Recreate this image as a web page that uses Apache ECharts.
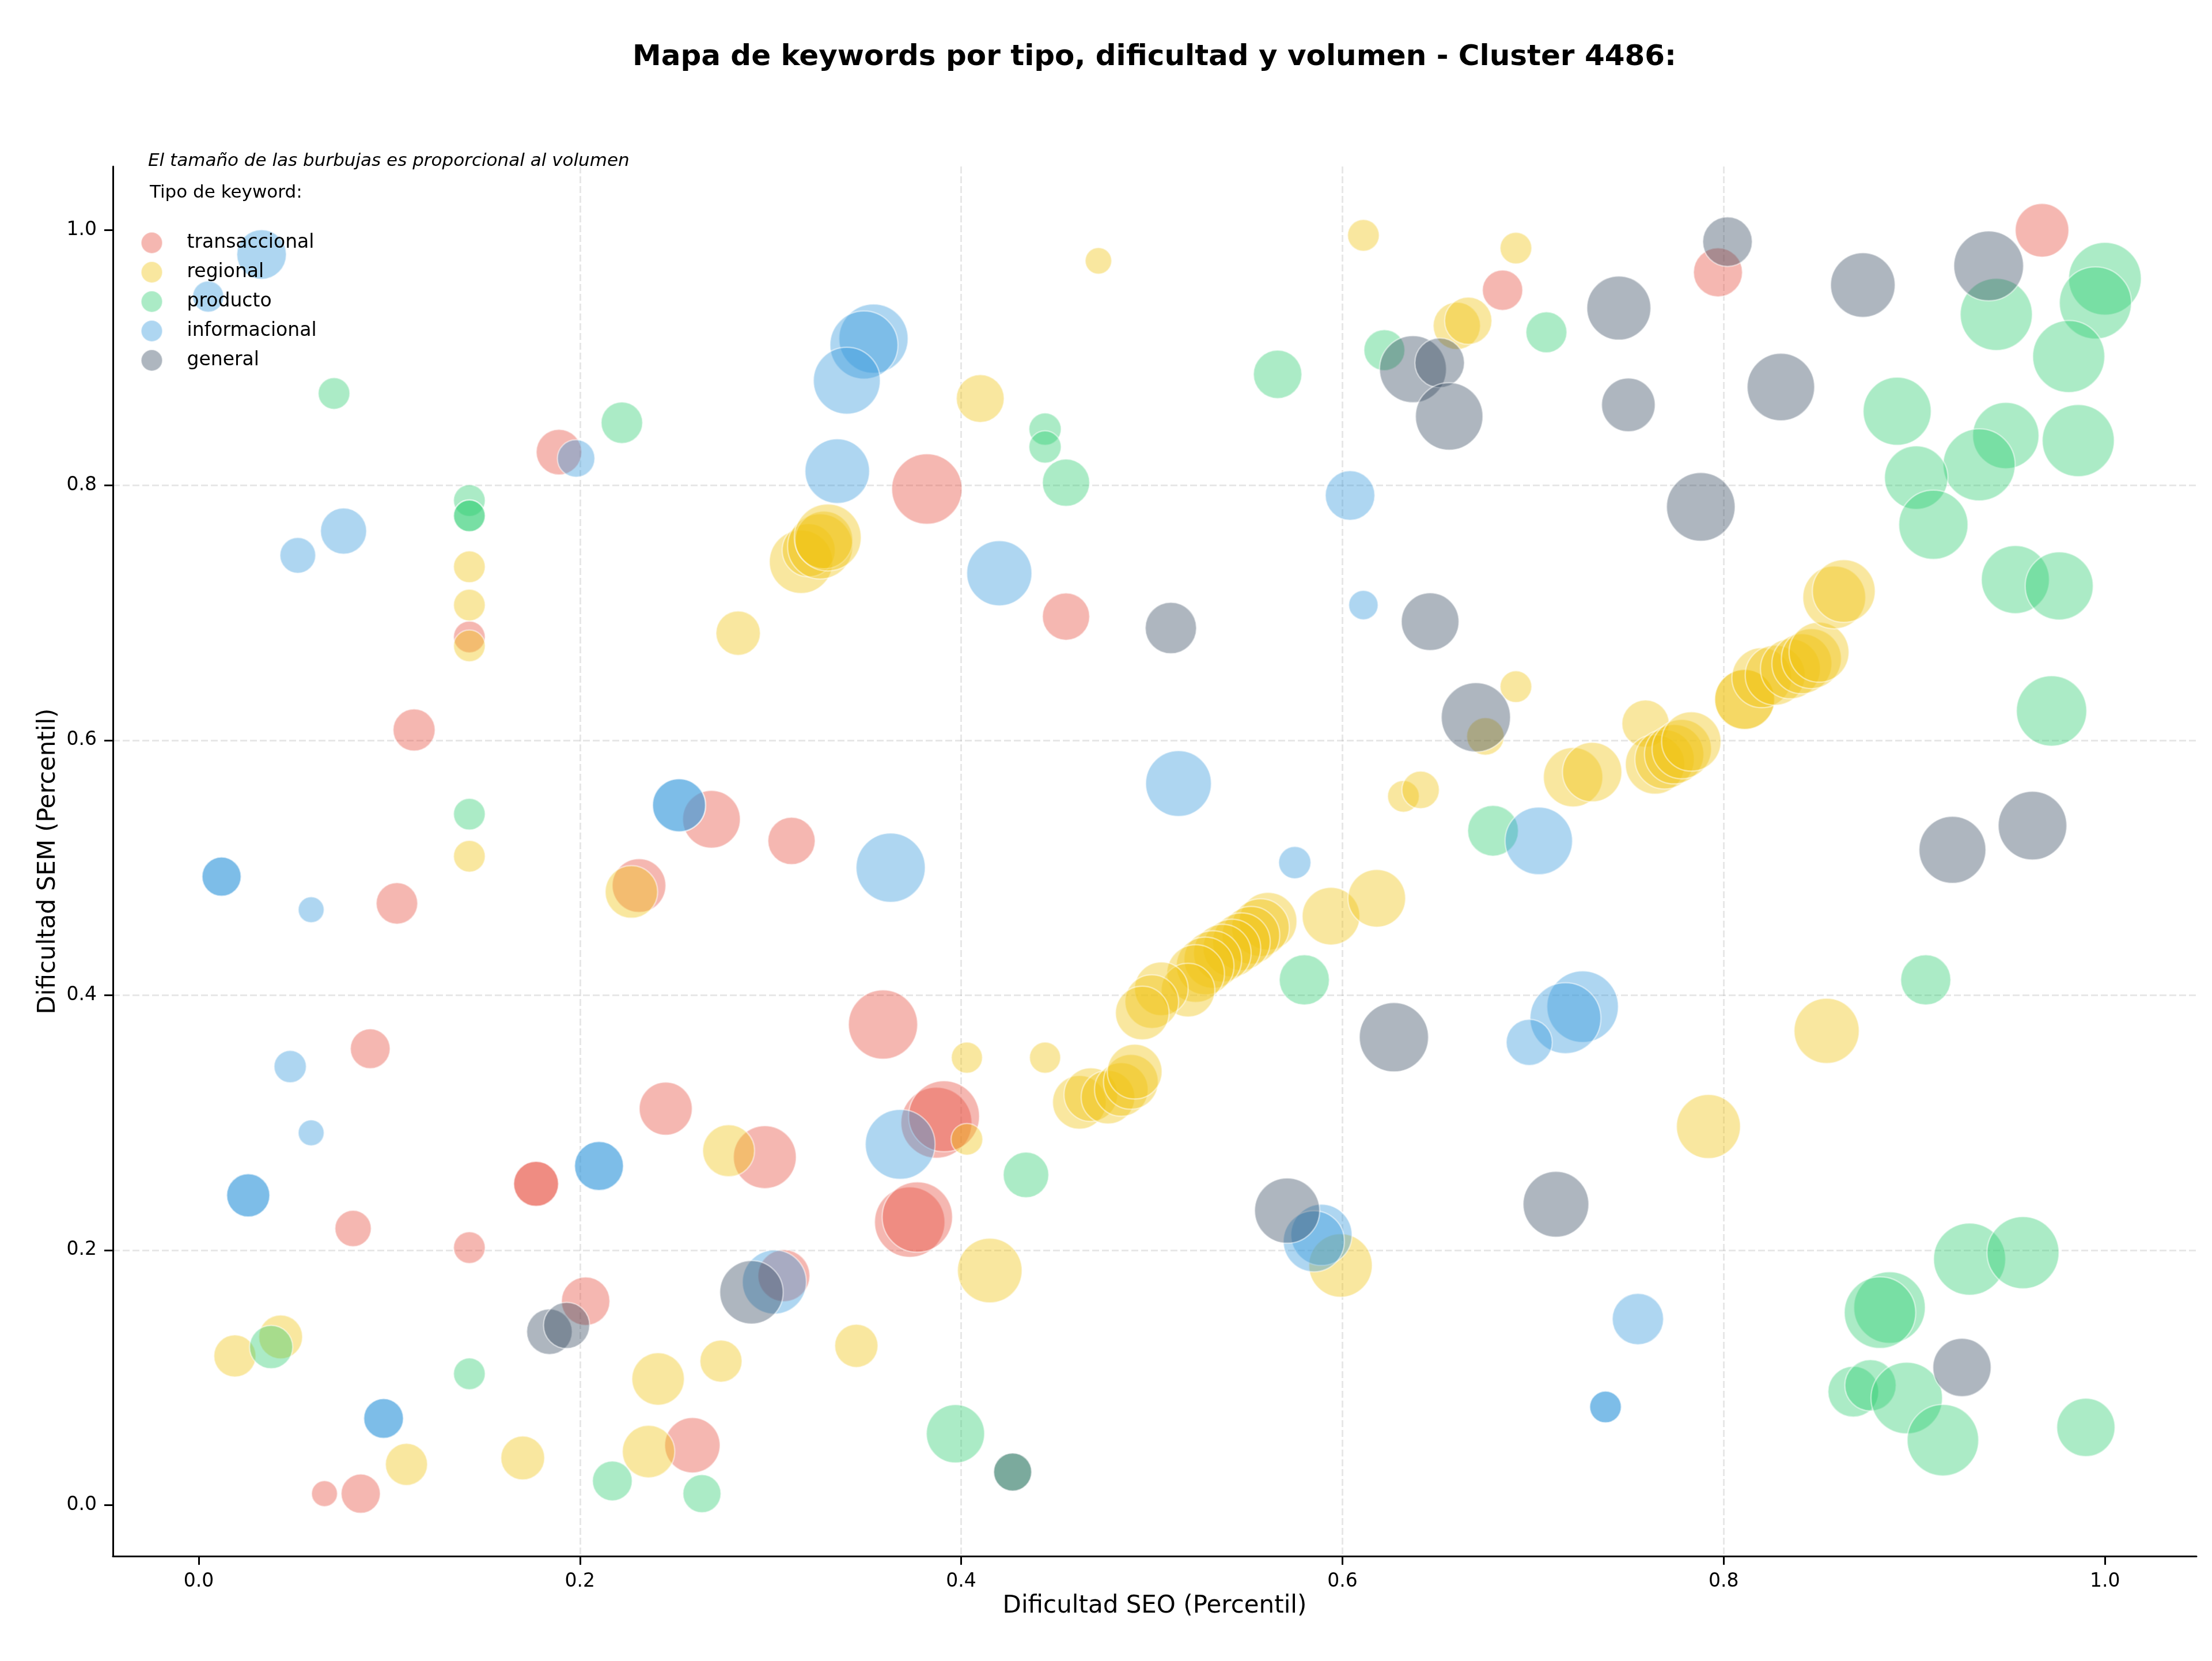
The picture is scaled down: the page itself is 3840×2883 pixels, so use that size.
<!DOCTYPE html>
<html>
<head>
<meta charset="utf-8">
<script src="https://cdn.jsdelivr.net/npm/echarts@6/dist/echarts.min.js"></script>
<style>
  html, body { margin: 0; padding: 0; background: #fff; }
  #main { width: 3840px; height: 2883px; }
</style>
</head>
<body>
<div id="main"></div>
<script>
// tipos de keyword (orden de la leyenda)
var tipos = ['transaccional', 'regional', 'producto', 'informacional', 'general'];

// transaccional
var transSeo = [0.967, 0.684, 0.797, 0.189, 0.382, 0.455, 0.142, 0.113, 0.269, 0.311, 0.231, 0.104, 0.359, 0.090, 0.245, 0.387, 0.391, 0.373, 0.377, 0.297, 0.177, 0.177, 0.081, 0.142, 0.203, 0.307, 0.259, 0.066, 0.085];
var transSem = [1.000, 0.953, 0.967, 0.826, 0.797, 0.697, 0.681, 0.608, 0.538, 0.521, 0.486, 0.472, 0.377, 0.358, 0.311, 0.300, 0.305, 0.222, 0.226, 0.273, 0.252, 0.252, 0.217, 0.202, 0.160, 0.180, 0.047, 0.009, 0.009];
var transVol = [2162, 1225, 1806, 1560, 3721, 1681, 756, 1332, 2500, 1681, 2162, 1296, 3600, 1190, 2116, 3782, 3782, 3721, 3721, 2970, 1521, 1521, 992, 756, 1764, 2025, 2304, 506, 1156];

// regional
var regSeo = [0.472, 0.611, 0.691, 0.660, 0.666, 0.410, 0.142, 0.142, 0.142, 0.283, 0.316, 0.320, 0.326, 0.328, 0.330, 0.142, 0.227, 0.691, 0.675, 0.759,
  0.721, 0.731, 0.764, 0.769, 0.774, 0.778, 0.783, 0.811, 0.811, 0.820, 0.827, 0.835, 0.841, 0.846, 0.850, 0.858, 0.863, 0.632, 0.641, 0.594,
  0.618, 0.561, 0.557, 0.552, 0.547, 0.542, 0.537, 0.532, 0.528, 0.523, 0.519, 0.505, 0.500, 0.495, 0.462, 0.468, 0.477, 0.484, 0.489, 0.491,
  0.403, 0.444, 0.403, 0.415, 0.345, 0.599, 0.792, 0.854, 0.278, 0.019, 0.043, 0.109, 0.170, 0.241, 0.274, 0.236];
var regSem = [0.976, 0.996, 0.986, 0.925, 0.929, 0.868, 0.736, 0.706, 0.674, 0.684, 0.740, 0.749, 0.752, 0.757, 0.759, 0.509, 0.481, 0.642, 0.603, 0.613,
  0.571, 0.575, 0.581, 0.585, 0.589, 0.593, 0.599, 0.632, 0.632, 0.649, 0.651, 0.656, 0.660, 0.664, 0.669, 0.712, 0.717, 0.556, 0.561, 0.462,
  0.476, 0.458, 0.453, 0.447, 0.442, 0.437, 0.433, 0.428, 0.423, 0.417, 0.404, 0.405, 0.395, 0.386, 0.316, 0.322, 0.320, 0.326, 0.332, 0.340,
  0.351, 0.351, 0.287, 0.184, 0.125, 0.188, 0.297, 0.372, 0.278, 0.117, 0.132, 0.032, 0.037, 0.099, 0.113, 0.042];
var regVol = [529, 756, 756, 1681, 1681, 1722, 756, 756, 756, 1482, 3025, 2116, 3192, 2500, 3364, 756, 2070, 756, 1056, 1681,
  2652, 2652, 2652, 2652, 2652, 2652, 2652, 2704, 2704, 2704, 2704, 2704, 2704, 2704, 2704, 2970, 2970, 756, 1056, 2500,
  2500, 2500, 2500, 2500, 2500, 2500, 2500, 2500, 2500, 2500, 2162, 2162, 2162, 2162, 2162, 2162, 2162, 2162, 2256, 2256,
  729, 729, 756, 3136, 1406, 3025, 3080, 3192, 2025, 1332, 1444, 1332, 1444, 2070, 1332, 2070];

// producto
var prodSeo = [0.071, 0.222, 0.142, 0.142, 0.142, 0.444, 0.444, 0.455, 0.566, 0.622, 0.707, 1.000, 0.995, 0.943, 0.981, 0.891, 0.948, 0.934, 0.986, 0.901,
  0.910, 0.953, 0.976, 0.972, 0.142, 0.679, 0.580, 0.906, 0.434, 0.038, 0.142, 0.217, 0.264, 0.397, 0.427, 0.929, 0.957, 0.887, 0.882, 0.868,
  0.877, 0.896, 0.915, 0.990];
var prodSem = [0.872, 0.849, 0.788, 0.776, 0.776, 0.844, 0.830, 0.802, 0.887, 0.906, 0.920, 0.962, 0.943, 0.934, 0.901, 0.858, 0.839, 0.816, 0.835, 0.806,
  0.769, 0.726, 0.721, 0.623, 0.542, 0.529, 0.412, 0.412, 0.259, 0.124, 0.103, 0.019, 0.009, 0.056, 0.026, 0.193, 0.198, 0.155, 0.151, 0.089,
  0.094, 0.084, 0.051, 0.061];
var prodVol = [756, 1296, 756, 756, 756, 784, 784, 1681, 1764, 1260, 1260, 3969, 3906, 3906, 3906, 3481, 3306, 3906, 3906, 3025,
  3600, 3481, 3481, 3721, 756, 1936, 1892, 1892, 1560, 1406, 756, 1190, 1089, 2550, 1089, 3906, 3906, 3844, 3844, 1936,
  1980, 3844, 3844, 2550];

// informacional
var infoSeo = [0.033, 0.005, 0.198, 0.354, 0.349, 0.340, 0.335, 0.076, 0.052, 0.420, 0.604, 0.611, 0.252, 0.252, 0.012, 0.012, 0.059, 0.048, 0.514, 0.363,
  0.575, 0.703, 0.726, 0.717, 0.698, 0.059, 0.026, 0.026, 0.210, 0.210, 0.368, 0.302, 0.097, 0.097, 0.589, 0.585, 0.755, 0.738, 0.738];
var infoSem = [0.981, 0.948, 0.821, 0.915, 0.910, 0.882, 0.811, 0.764, 0.745, 0.731, 0.792, 0.706, 0.549, 0.549, 0.493, 0.493, 0.467, 0.344, 0.566, 0.500,
  0.504, 0.521, 0.391, 0.382, 0.363, 0.292, 0.243, 0.243, 0.266, 0.266, 0.283, 0.175, 0.068, 0.068, 0.212, 0.207, 0.146, 0.077, 0.077];
var infoVol = [1849, 729, 1056, 3600, 3481, 3364, 3136, 1600, 961, 3192, 1849, 650, 2116, 2116, 1156, 1156, 506, 784, 3249, 3600,
  784, 3422, 3844, 3782, 1600, 506, 1406, 1406, 1806, 1806, 3660, 3080, 1190, 1190, 2809, 2809, 1980, 756, 756];

// general
var genSeo = [0.637, 0.651, 0.656, 0.745, 0.750, 0.802, 0.873, 0.830, 0.788, 0.939, 0.510, 0.646, 0.670, 0.627, 0.920, 0.962, 0.571, 0.712, 0.925, 0.184,
  0.193, 0.290, 0.427];
var genSem = [0.891, 0.896, 0.854, 0.939, 0.863, 0.991, 0.957, 0.877, 0.783, 0.972, 0.688, 0.693, 0.618, 0.367, 0.514, 0.533, 0.231, 0.236, 0.108, 0.136,
  0.141, 0.167, 0.026];
var genVol = [3364, 1849, 3422, 3080, 2162, 1849, 3136, 3422, 3540, 3660, 1980, 2500, 3600, 3600, 3364, 3540, 3192, 3249, 2550, 1560,
  1600, 3025, 1089];

// ejes
var tickValues = [0, 0.2, 0.4, 0.6, 0.8, 1.0];

var colores = {
  transaccional: 'rgba(231,76,60,0.5)',
  regional: 'rgba(241,196,15,0.5)',
  producto: 'rgba(46,204,113,0.5)',
  informacional: 'rgba(52,152,219,0.5)',
  general: 'rgba(52,73,94,0.5)'
};

var FONT = 'DejaVu Sans';

function puntos(seo, sem, vol) {
  return seo.map(function (x, i) { return [x, sem[i], vol[i]]; });
}

var datos = {
  transaccional: puntos(transSeo, transSem, transVol),
  regional: puntos(regSeo, regSem, regVol),
  producto: puntos(prodSeo, prodSem, prodVol),
  informacional: puntos(infoSeo, infoSem, infoVol),
  general: puntos(genSeo, genSem, genVol)
};

var chart = echarts.init(document.getElementById('main'));

var series = tipos.map(function (t) {
  return {
    name: t,
    type: 'scatter',
    data: datos[t],
    symbol: 'circle',
    symbolSize: function (v) { return 2 * Math.sqrt(v[2]); },
    itemStyle: {
      color: colores[t],
      borderColor: 'rgba(255,255,255,0.6)',
      borderWidth: 2.5
    },
    emphasis: { disabled: true }
  };
});

function eje(nombre, min, max, gap) {
  return {
    type: 'value',
    min: min,
    max: max,
    name: nombre,
    nameLocation: 'middle',
    nameGap: gap,
    nameTextStyle: { fontFamily: FONT, fontSize: 42, color: '#000' },
    axisLine: { show: true, onZero: false, lineStyle: { color: '#000', width: 3 } },
    axisTick: { show: true, inside: false, length: 15, customValues: tickValues, lineStyle: { color: '#000', width: 3 } },
    axisLabel: {
      customValues: tickValues,
      margin: 28,
      fontFamily: FONT,
      fontSize: 33,
      color: '#000',
      formatter: function (v) { return v.toFixed(1); }
    },
    splitLine: {
      show: true,
      showMinLine: false,
      showMaxLine: false,
      lineStyle: { color: 'rgba(176,176,176,0.3)', width: 3, type: [12, 5] }
    }
  };
}

var option = {
  animation: false,
  backgroundColor: '#fff',
  grid: { left: 196, right: 27, top: 289, bottom: 182, containLabel: false, outerBoundsMode: 'none' },
  xAxis: eje('Dificultad SEO (Percentil)', -0.045, 1.048, 65),
  yAxis: eje('Dificultad SEM (Percentil)', -0.040, 1.050, 82),
  legend: {
    data: tipos,
    orient: 'vertical',
    left: 244,
    top: 402,
    icon: 'circle',
    itemWidth: 112,
    itemHeight: 37,
    itemGap: 12,
    padding: 0,
    textStyle: { fontFamily: FONT, fontSize: 33, color: '#000', lineHeight: 37 },
    selectedMode: false
  },
  graphic: [
    {
      type: 'text', x: 2004, y: 100,
      style: {
        text: 'Mapa de keywords por tipo, dificultad y volumen - Cluster 4486:',
        font: 'bold 50px "DejaVu Sans"', fill: '#000',
        textAlign: 'center', textVerticalAlign: 'middle'
      }
    },
    {
      type: 'text', x: 257, y: 280,
      style: {
        text: 'El tamaño de las burbujas es proporcional al volumen',
        font: 'italic 31px "DejaVu Sans"', fill: '#000',
        textAlign: 'left', textVerticalAlign: 'middle'
      }
    },
    {
      type: 'text', x: 260, y: 335,
      style: {
        text: 'Tipo de keyword:',
        font: '31px "DejaVu Sans"', fill: '#000',
        textAlign: 'left', textVerticalAlign: 'middle'
      }
    }
  ],
  series: series
};

chart.setOption(option);
</script>
</body>
</html>
